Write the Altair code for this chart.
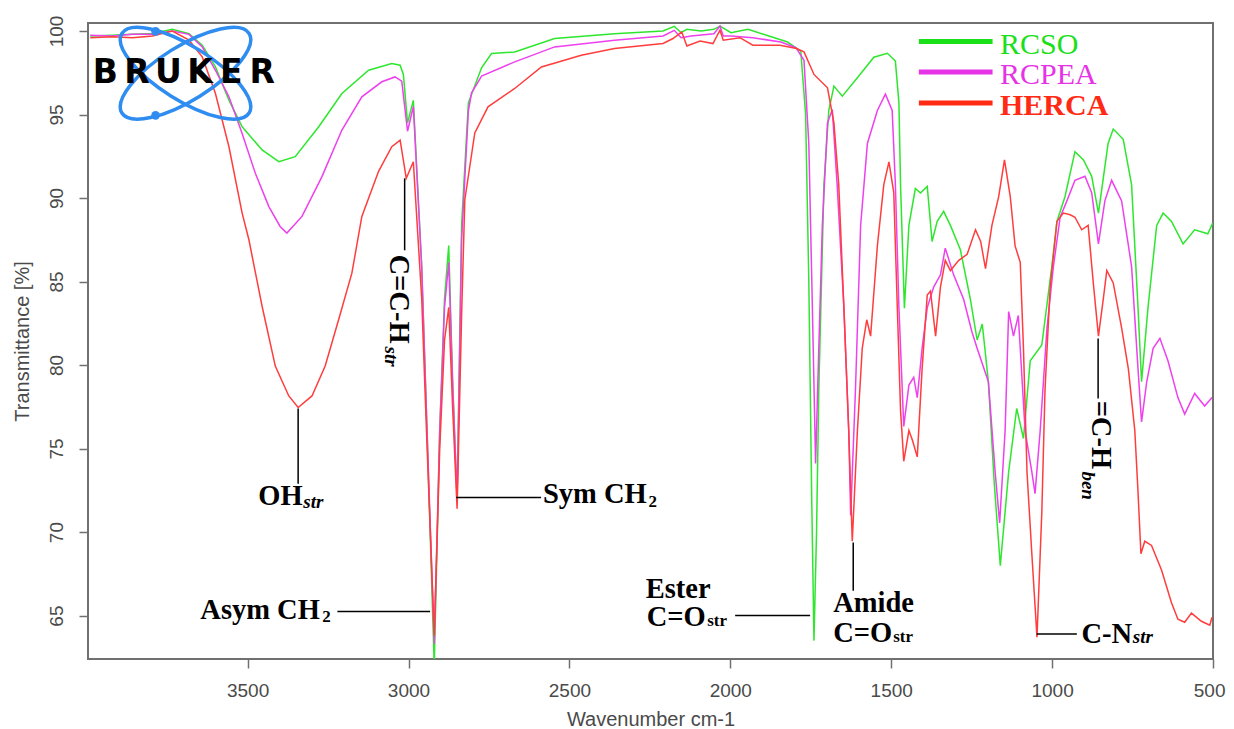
import altair as alt
import pandas as pd

# ---------------- data (wavenumber cm-1, transmittance %) ----------------
rcso = [
    (3989, 99.7), (3920, 99.75), (3858, 99.8), (3796, 99.85), (3734, 100.1), (3682, 99.84),
    (3641, 99.15), (3600, 97.85), (3558, 95.86), (3517, 94.27), (3455, 92.88), (3403, 92.18),
    (3352, 92.48), (3279, 94.27), (3207, 96.26), (3124, 97.65), (3052, 98.05), (3026, 97.95),
    (3016, 97.4), (3003, 94.5), (2985, 95.85), (2959, 85.9), (2944, 77.0), (2920, 62.0),
    (2903, 76.1), (2888, 84.0), (2875, 87.15), (2863, 79.0), (2849, 72.0), (2835, 88.4),
    (2814, 95.7), (2773, 97.8), (2742, 98.65), (2670, 98.75), (2546, 99.55), (2360, 99.84),
    (2209, 100.0), (2174, 100.28), (2153, 99.9), (2135, 100.1), (2091, 100.0), (2051, 100.1),
    (2032, 100.3), (1998, 99.9), (1945, 100.1), (1880, 99.7), (1822, 99.34), (1781, 98.8),
    (1766, 95.0), (1756, 85.0), (1747, 72.0), (1740, 63.5), (1732, 70.0), (1725, 78.55),
    (1709, 90.8), (1694, 95.24), (1678, 96.7), (1652, 96.1), (1605, 97.2), (1554, 98.43),
    (1512, 98.67), (1487, 98.2), (1476, 95.7), (1471, 90.8), (1459, 83.4), (1445, 88.36),
    (1425, 90.57), (1409, 90.3), (1388, 90.7), (1373, 87.4), (1357, 88.6), (1337, 89.2),
    (1316, 88.36), (1285, 86.9), (1254, 83.94), (1233, 81.5), (1217, 82.46), (1198, 79.0),
    (1180, 73.0), (1161, 67.98), (1135, 73.6), (1110, 77.4), (1089, 75.6), (1068, 80.26),
    (1032, 81.2), (1001, 85.9), (985, 88.6), (960, 90.08), (929, 92.78), (903, 92.3),
    (877, 91.3), (856, 89.1), (826, 93.27), (810, 94.13), (779, 93.52), (753, 90.8),
    (733, 83.44), (722, 79.0), (702, 83.44), (675, 88.36), (655, 89.1), (629, 88.6),
    (593, 87.25), (557, 88.1), (516, 87.86), (501, 88.5),
]

rcpea = [
    (3989, 99.75), (3920, 99.7), (3858, 99.8), (3796, 99.8), (3734, 100.0), (3682, 99.8),
    (3641, 99.05), (3600, 97.65), (3558, 96.06), (3517, 93.87), (3476, 91.48), (3434, 89.49),
    (3399, 88.3), (3378, 87.9), (3331, 88.9), (3269, 91.28), (3207, 94.07), (3145, 96.06),
    (3083, 96.96), (3042, 97.25), (3021, 97.0), (3012, 95.5), (3003, 94.0), (2985, 95.48),
    (2959, 85.9), (2944, 77.0), (2920, 63.3), (2903, 76.1), (2888, 83.5), (2875, 86.15),
    (2863, 79.0), (2849, 71.9), (2835, 87.5), (2814, 95.2), (2804, 96.3), (2773, 97.3),
    (2670, 98.15), (2546, 99.05), (2360, 99.45), (2209, 99.7), (2174, 100.04), (2153, 99.6),
    (2122, 99.7), (2051, 99.84), (2032, 100.3), (2022, 99.7), (1998, 99.7), (1930, 99.6),
    (1843, 99.34), (1796, 99.0), (1771, 98.25), (1756, 93.27), (1745, 83.44), (1735, 74.1),
    (1725, 81.0), (1714, 88.36), (1698, 94.5), (1683, 95.3), (1668, 90.8), (1647, 83.44),
    (1632, 76.08), (1626, 71.0), (1611, 78.55), (1595, 88.36), (1574, 93.27), (1543, 95.24),
    (1518, 96.22), (1497, 95.24), (1487, 90.8), (1476, 83.44), (1461, 76.33), (1445, 78.8),
    (1430, 79.27), (1419, 78.05), (1404, 81.0), (1388, 83.44), (1368, 84.67), (1347, 85.4),
    (1332, 87.0), (1306, 85.4), (1275, 83.94), (1249, 81.98), (1233, 81.0), (1198, 79.0),
    (1177, 73.6), (1163, 70.55), (1146, 76.08), (1135, 83.2), (1120, 81.73), (1105, 82.97),
    (1084, 76.08), (1063, 73.6), (1053, 72.3), (1037, 76.08), (1016, 82.2), (996, 85.9),
    (975, 88.85), (954, 89.83), (929, 91.06), (898, 91.3), (877, 90.32), (856, 87.25),
    (836, 89.83), (815, 91.06), (784, 89.83), (753, 85.9), (733, 79.77), (722, 76.6),
    (706, 79.0), (686, 81.0), (665, 81.6), (640, 80.26), (609, 78.05), (588, 77.06),
    (557, 78.3), (526, 77.55), (503, 78.05),
]

herca = [
    (3989, 99.6), (3920, 99.65), (3858, 99.6), (3796, 99.7), (3734, 100.0), (3682, 99.45),
    (3641, 98.45), (3600, 96.26), (3558, 93.07), (3517, 89.1), (3496, 87.5), (3455, 83.52),
    (3414, 79.94), (3372, 78.15), (3343, 77.46), (3300, 78.15), (3259, 79.94), (3217, 82.73),
    (3176, 85.5), (3145, 88.9), (3093, 91.6), (3052, 93.07), (3026, 93.47), (3007, 91.18),
    (2985, 92.17), (2959, 84.0), (2944, 76.0), (2920, 63.8), (2903, 75.0), (2888, 81.5),
    (2875, 83.45), (2863, 77.5), (2849, 71.4), (2835, 83.0), (2825, 89.9), (2794, 93.9),
    (2753, 95.46), (2670, 96.56), (2587, 97.85), (2463, 98.55), (2360, 98.95), (2209, 99.25),
    (2178, 99.55), (2151, 99.95), (2135, 99.1), (2094, 99.4), (2054, 99.25), (2032, 100.05),
    (2022, 99.45), (1970, 99.6), (1930, 99.15), (1846, 99.15), (1794, 98.95), (1771, 98.75),
    (1740, 97.4), (1698, 96.6), (1678, 94.5), (1663, 90.8), (1647, 83.44), (1632, 76.08),
    (1621, 69.45), (1605, 76.08), (1590, 81.0), (1576, 82.71), (1564, 81.73), (1543, 87.13),
    (1523, 90.8), (1507, 92.17), (1492, 90.32), (1481, 83.44), (1471, 77.3), (1461, 74.24),
    (1445, 76.08), (1434, 75.5), (1419, 74.5), (1404, 79.77), (1388, 84.19), (1378, 84.43),
    (1362, 81.73), (1347, 84.67), (1332, 86.27), (1316, 85.66), (1290, 86.27), (1264, 86.63),
    (1238, 88.1), (1222, 87.4), (1207, 85.78), (1187, 88.36), (1166, 90.08), (1148, 92.29),
    (1130, 90.08), (1115, 87.13), (1099, 86.15), (1089, 81.0), (1078, 73.6), (1063, 68.7),
    (1047, 63.7), (1032, 71.17), (1022, 78.53), (1006, 84.67), (985, 88.6), (965, 89.1),
    (944, 89.0), (929, 88.85), (908, 88.1), (888, 88.36), (872, 84.92), (856, 81.73),
    (841, 83.94), (830, 85.66), (810, 84.92), (784, 82.22), (763, 79.77), (743, 76.08),
    (733, 72.4), (724, 68.7), (712, 69.45), (691, 69.2), (660, 67.73), (629, 65.77),
    (609, 64.78), (588, 64.6), (567, 65.15), (536, 64.66), (510, 64.42), (503, 64.9),
]

series_names = ["RCSO", "RCPEA", "HERCA"]
series_colors = ["#2ee62e", "#ee40ee", "#ff3d3d"]
legend_colors = ["#19e019", "#e633e6", "#ff2a14"]

x_ticks = [3500, 3000, 2500, 2000, 1500, 1000, 500]
y_ticks = [65, 70, 75, 80, 85, 90, 95, 100]

# annotation texts: (text, wn, T)
ann_main = [("OH", 3467, 71.6), ("Asym CH", 3647, 64.82), ("Sym CH", 2582, 71.73),
            ("Ester", 2263, 66.06), ("C=O", 2260, 64.36), ("Amide", 1680, 65.2),
            ("C=O", 1680, 63.4), ("C-N", 909, 63.37)]
ann_sub_italic = [("str", 3327, 71.47), ("str", 749, 63.37)]
ann_sub_plain = [("2", 3268, 64.62), ("2", 2254, 71.53), ("str", 2072, 64.36), ("str", 1494, 63.4)]
ann_rot_main = [("C=C-H", 3057, 86.62), ("=C-H", 877, 77.87)]
ann_rot_sub = [("str", 3072, 81.11), ("ben", 908, 73.63)]
# leader lines: (wn1, T1, wn2, T2)
ann_lines = [(3343, 77.4, 3343, 72.9), (3221, 65.24, 2933, 65.24), (2852, 72.07, 2588, 72.07),
             (1985, 65.0, 1752, 65.0), (1618, 69.37, 1618, 66.49), (1048, 63.9, 923, 63.9),
             (857, 81.59, 857, 78.0), (3012, 91.18, 3012, 86.87)]
# legend placement
legend_lines = [(1414, 99.37, 1185, 99.37), (1414, 97.54, 1185, 97.54), (1414, 95.69, 1185, 95.69)]
legend_text = [(1162, 98.65), (1162, 96.85), (1162, 95.0)]
# logo
logo_letters = ["B", "R", "U", "K", "E", "R"]
logo_letter_wn = [3942, 3844, 3746, 3648, 3551, 3455]
logo_center = (3693, 97.47)
logo_dots = [(3786, 99.98), (3786, 94.95)]

# ---------------- scales & axes ----------------
xs = alt.Scale(domain=[500, 3996], reverse=True, nice=False, zero=False)
ys = alt.Scale(domain=[62.4, 100.48], nice=False, zero=False)

AX_COL = "#4a4a4a"
x_axis = alt.Axis(values=x_ticks, format="d", title="Wavenumber cm-1", grid=False, domain=False,
                  labelFont="Liberation Sans", labelFontSize=19, labelColor=AX_COL,
                  labelPadding=13, labelFlush=True, labelFlushOffset=12, labelOverlap=False,
                  tickColor="#707070", tickWidth=1.5, tickSize=9,
                  titleFont="Liberation Sans", titleFontSize=20, titleFontWeight="normal",
                  titleColor=AX_COL, titleBaseline="alphabetic", titleY=66)
y_axis = alt.Axis(values=y_ticks, format="d", title="Transmittance [%]", grid=False, domain=False,
                  labelFont="Liberation Sans", labelFontSize=19, labelColor=AX_COL,
                  labelAngle=270, labelAlign="center", labelBaseline="alphabetic",
                  labelPadding=17, labelFlush=False, labelOverlap=False,
                  tickColor="#707070", tickWidth=1.5, tickSize=9,
                  titleFont="Liberation Sans", titleFontSize=20, titleFontWeight="normal",
                  titleColor=AX_COL, titleAngle=270, titleAlign="center",
                  titleBaseline="alphabetic", titleX=-60, titleY=318)


def X(field="wn"):
    return alt.X(f"{field}:Q", scale=xs, axis=x_axis)


def Y(field="T"):
    return alt.Y(f"{field}:Q", scale=ys, axis=y_axis)


def spectrum(pairs, color):
    df = pd.DataFrame(pairs, columns=["wn", "T"])
    return alt.Chart(df).mark_line(color=color, strokeWidth=1.5, clip=True).encode(
        x=X(), y=Y())


def text_layer(rows, size, weight="bold", style="normal", angle=0, align="left",
               color="black", font="Liberation Serif"):
    df = pd.DataFrame(rows, columns=["label", "wn", "T"])
    return alt.Chart(df).mark_text(
        align=align, baseline="alphabetic", font=font, fontSize=size, fontWeight=weight,
        fontStyle=style, angle=angle, color=color,
    ).encode(x=X(), y=Y(), text="label:N")


def rule_layer(rows, color, width):
    df = pd.DataFrame(rows, columns=["wn", "T", "wn2", "T2"])
    return alt.Chart(df).mark_rule(color=color, strokeWidth=width).encode(
        x=X(), x2="wn2:Q", y=Y(), y2="T2:Q")


layers = [spectrum(rcso, series_colors[0]),
          spectrum(rcpea, series_colors[1]),
          spectrum(herca, series_colors[2])]

layers.append(rule_layer(ann_lines, "black", 1.5))
layers.append(text_layer(ann_main, 28.5))
layers.append(text_layer(ann_sub_italic, 19, style="italic"))
layers.append(text_layer(ann_sub_plain, 17))
layers.append(text_layer(ann_rot_main, 28.5, angle=90))
layers.append(text_layer(ann_rot_sub, 19, style="italic", angle=90))

# legend
for i, name in enumerate(series_names):
    layers.append(rule_layer([legend_lines[i]], legend_colors[i], 5))
    layers.append(text_layer([(name, legend_text[i][0], legend_text[i][1])], 30,
                             weight="bold" if name == "HERCA" else "normal",
                             color=legend_colors[i]))

# logo
ellipse = "M -1 0 A 1 0.36 0 1 1 1 0 A 1 0.36 0 1 1 -1 0 Z"
cdf = pd.DataFrame({"wn": [logo_center[0]], "T": [logo_center[1]]})
for ang in (32, 328):
    layers.append(alt.Chart(cdf).mark_point(shape=ellipse, size=22500, filled=False,
                                            stroke="#2f8cf0", strokeWidth=3.5, opacity=1,
                                            angle=ang).encode(x=X(), y=Y()))
ddf = pd.DataFrame(logo_dots, columns=["wn", "T"])
layers.append(alt.Chart(ddf).mark_circle(size=75, color="#2f8cf0", opacity=1).encode(
    x=X(), y=Y()))
letters_df = pd.DataFrame({"label": logo_letters, "wn": logo_letter_wn,
                           "T": [96.89] * len(logo_letters)})
layers.append(alt.Chart(letters_df).mark_text(
    align="center", baseline="alphabetic", font="DejaVu Sans", fontSize=33,
    fontWeight="bold", color="black").encode(x=X(), y=Y(), text="label:N"))

chart = alt.layer(*layers).properties(
    width=1125, height=636,
    padding={"left": 80, "top": 15, "right": 13, "bottom": 70},
    autosize=alt.AutoSizeParams(type="none"),
    background="white",
).configure_view(stroke="#707070", strokeWidth=2)

chart.save("out.html", embed_options={"renderer": "svg", "actions": False})
